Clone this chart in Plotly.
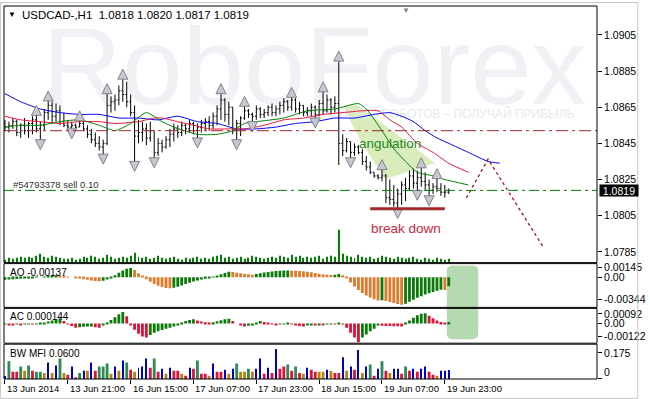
import plotly.graph_objects as go

# ---------------- data ----------------
bar_high = [1.0858,1.0857,1.0859,1.0858,1.0856,1.0859,1.0857,1.0860,1.0861,1.0857,
 1.0864,1.0869,1.0868,1.0867,1.0866,1.0862,1.0858,1.0857,1.0856,1.0858,
 1.0857,1.0855,1.0853,1.0851,1.0849,1.0847,1.0873,1.0871,1.0872,1.0877,
 1.0881,1.0879,1.0872,1.0866,1.0858,1.0857,1.0856,1.0857,1.0852,1.0848,
 1.0847,1.0849,1.0853,1.0856,1.0855,1.0857,1.0856,1.0858,1.0857,1.0856,
 1.0858,1.0859,1.0860,1.0862,1.0866,1.0873,1.0870,1.0868,1.0865,1.0858,
 1.0860,1.0866,1.0864,1.0862,1.0866,1.0865,1.0864,1.0866,1.0867,1.0866,
 1.0868,1.0870,1.0869,1.0871,1.0870,1.0868,1.0866,1.0865,1.0867,1.0866,
 1.0869,1.0874,1.0872,1.0870,1.0871,1.0891,1.0850,1.0848,1.0846,1.0845,
 1.0844,1.0842,1.0838,1.0835,1.0829,1.0828,1.0831,1.0828,1.0825,1.0822,
 1.0820,1.0824,1.0826,1.0830,1.0831,1.0830,1.0832,1.0829,1.0825,1.0823,
 1.0826,1.0823,1.0822,1.0820]
bar_low = [1.0852,1.0851,1.0853,1.0849,1.0848,1.0850,1.0848,1.0850,1.0851,1.0846,
 1.0852,1.0858,1.0856,1.0857,1.0855,1.0854,1.0853,1.0852,1.0853,1.0854,
 1.0852,1.0848,1.0845,1.0843,1.0841,1.0838,1.0844,1.0862,1.0863,1.0866,
 1.0868,1.0865,1.0860,1.0834,1.0845,1.0846,1.0844,1.0846,1.0836,1.0838,
 1.0840,1.0842,1.0843,1.0846,1.0848,1.0849,1.0850,1.0851,1.0850,1.0847,
 1.0851,1.0852,1.0852,1.0853,1.0855,1.0858,1.0857,1.0855,1.0850,1.0846,
 1.0849,1.0858,1.0859,1.0856,1.0858,1.0859,1.0859,1.0860,1.0860,1.0860,
 1.0861,1.0862,1.0863,1.0863,1.0862,1.0861,1.0860,1.0860,1.0860,1.0858,
 1.0860,1.0861,1.0862,1.0861,1.0862,1.0833,1.0838,1.0840,1.0836,1.0838,
 1.0839,1.0833,1.0830,1.0828,1.0826,1.0825,1.0824,1.0812,1.0811,1.0810,
 1.0808,1.0811,1.0813,1.0819,1.0820,1.0818,1.0821,1.0819,1.0815,1.0817,
 1.0818,1.0816,1.0815,1.0817]
bar_open = [1.0856,1.0854,1.0855,1.0857,1.0851,1.0855,1.0852,1.0856,1.0858,1.0853,
 1.0855,1.0862,1.0866,1.0860,1.0863,1.0857,1.0855,1.0854,1.0855,1.0854,
 1.0856,1.0853,1.0850,1.0847,1.0845,1.0843,1.0845,1.0866,1.0868,1.0869,
 1.0874,1.0872,1.0868,1.0862,1.0849,1.0851,1.0853,1.0848,1.0852,1.0840,
 1.0845,1.0843,1.0847,1.0850,1.0853,1.0851,1.0855,1.0853,1.0856,1.0852,
 1.0854,1.0856,1.0857,1.0855,1.0860,1.0864,1.0869,1.0861,1.0865,1.0852,
 1.0856,1.0859,1.0863,1.0861,1.0860,1.0864,1.0861,1.0862,1.0865,1.0862,
 1.0864,1.0866,1.0868,1.0865,1.0869,1.0864,1.0866,1.0862,1.0863,1.0865,
 1.0861,1.0867,1.0863,1.0869,1.0865,1.0867,1.0845,1.0841,1.0846,1.0840,
 1.0843,1.0840,1.0835,1.0832,1.0829,1.0827,1.0826,1.0827,1.0815,1.0814,
 1.0812,1.0817,1.0822,1.0820,1.0827,1.0823,1.0826,1.0824,1.0822,1.0819,
 1.0821,1.0820,1.0818,1.0818]
bar_close = [1.0854,1.0855,1.0857,1.0851,1.0855,1.0852,1.0856,1.0858,1.0853,1.0855,
 1.0862,1.0866,1.0860,1.0863,1.0857,1.0855,1.0854,1.0855,1.0854,1.0856,
 1.0853,1.0850,1.0847,1.0845,1.0843,1.0845,1.0866,1.0868,1.0869,1.0874,
 1.0872,1.0868,1.0862,1.0849,1.0851,1.0853,1.0848,1.0852,1.0840,1.0845,
 1.0843,1.0847,1.0850,1.0853,1.0851,1.0855,1.0853,1.0856,1.0852,1.0854,
 1.0856,1.0857,1.0855,1.0860,1.0864,1.0869,1.0861,1.0865,1.0852,1.0856,
 1.0859,1.0863,1.0861,1.0860,1.0864,1.0861,1.0862,1.0865,1.0862,1.0864,
 1.0866,1.0868,1.0865,1.0869,1.0864,1.0866,1.0862,1.0863,1.0865,1.0861,
 1.0867,1.0863,1.0869,1.0865,1.0867,1.0845,1.0841,1.0846,1.0840,1.0843,
 1.0840,1.0835,1.0832,1.0829,1.0827,1.0826,1.0827,1.0815,1.0814,1.0812,
 1.0817,1.0822,1.0820,1.0827,1.0823,1.0826,1.0824,1.0822,1.0819,1.0821,
 1.0820,1.0818,1.0818,1.0819]
tick_volume = [300,500,400,500,600,500,600,500,700,900,
 600,500,700,600,500,400,400,500,300,400,
 600,500,700,600,400,500,800,600,400,500,
 600,500,700,1000,600,500,600,400,500,700,
 500,400,500,600,400,300,500,400,500,600,
 400,500,400,600,700,800,500,600,400,500,
 600,400,500,700,600,500,400,500,600,500,
 700,600,500,800,600,700,500,600,500,600,
 700,400,600,700,600,3300,900,700,600,500,
 800,600,500,600,400,500,700,600,500,400,
 600,500,400,500,600,400,300,500,400,300,
 500,400,300,400]
ao_values = [-0.00040,-0.00035,-0.00030,-0.00025,-0.00022,-0.00018,-0.00012,-0.00008,-0.00004,0.00000,
 0.00004,0.00010,0.00016,0.00020,0.00015,0.00010,0.00005,0.00000,-0.00010,-0.00020,
 -0.00030,-0.00040,-0.00050,-0.00058,-0.00062,-0.00055,-0.00035,-0.00010,0.00030,0.00070,
 0.00105,0.00130,0.00140,0.00110,0.00060,0.00010,-0.00030,-0.00070,-0.00105,-0.00130,
 -0.00150,-0.00165,-0.00170,-0.00160,-0.00145,-0.00125,-0.00105,-0.00085,-0.00065,-0.00050,
 -0.00035,-0.00022,-0.00010,0.00005,0.00025,0.00045,0.00065,0.00085,0.00080,0.00070,
 0.00060,0.00050,0.00045,0.00040,0.00050,0.00062,0.00072,0.00080,0.00088,0.00095,
 0.00100,0.00102,0.00104,0.00100,0.00098,0.00094,0.00090,0.00084,0.00075,0.00065,
 0.00055,0.00045,0.00040,0.00035,0.00040,0.00048,0.00030,-0.00020,-0.00080,-0.00140,
 -0.00195,-0.00240,-0.00280,-0.00310,-0.00335,-0.00355,-0.00350,-0.00365,-0.00380,-0.00395,
 -0.00410,-0.00420,-0.00405,-0.00375,-0.00345,-0.00315,-0.00290,-0.00265,-0.00245,-0.00225,
 -0.00205,-0.00190,-0.00195,-0.00137]
ac_values = [-0.00005,-0.00010,-0.00012,-0.00008,-0.00010,-0.00006,-0.00004,-0.00006,-0.00003,0.00002,
 0.00010,0.00020,0.00030,0.00040,0.00048,0.00025,-0.00005,-0.00025,-0.00040,-0.00035,
 -0.00032,-0.00030,-0.00028,-0.00035,-0.00042,-0.00020,0.00010,0.00035,0.00060,0.00090,
 0.00110,0.00070,-0.00010,-0.00060,-0.00100,-0.00125,-0.00135,-0.00110,-0.00090,-0.00075,
 -0.00062,-0.00050,-0.00040,-0.00030,-0.00010,0.00010,0.00025,0.00035,0.00040,0.00030,
 0.00020,0.00012,0.00005,0.00012,0.00022,0.00032,0.00040,0.00045,0.00025,0.00000,
 -0.00020,-0.00030,-0.00022,-0.00010,0.00010,0.00025,0.00015,0.00005,-0.00005,-0.00012,
 -0.00008,-0.00002,0.00004,-0.00005,-0.00015,-0.00025,-0.00030,-0.00020,-0.00015,-0.00018,
 -0.00010,-0.00012,-0.00008,-0.00004,-0.00007,0.00005,-0.00005,-0.00040,-0.00090,-0.00135,
 -0.00180,-0.00135,-0.00105,-0.00075,-0.00050,-0.00020,-0.00022,-0.00024,-0.00025,-0.00026,
 -0.00027,-0.00028,0.00005,0.00030,0.00055,0.00080,0.00095,0.00100,0.00075,0.00050,
 0.00030,0.00015,0.00005,0.000144]
mfi_values = [0.020,0.118,0.048,0.048,0.083,0.055,0.090,0.055,0.048,0.048,
 0.041,0.111,0.041,0.090,0.138,0.041,0.028,0.083,0.007,0.041,
 0.055,0.055,0.111,0.055,0.083,0.083,0.104,0.035,0.083,0.055,
 0.124,0.111,0.062,0.048,0.076,0.083,0.138,0.076,0.138,0.048,
 0.069,0.035,0.076,0.055,0.055,0.035,0.021,0.076,0.069,0.124,
 0.035,0.035,0.021,0.104,0.048,0.048,0.062,0.035,0.069,0.104,
 0.048,0.048,0.069,0.048,0.069,0.138,0.035,0.076,0.041,0.200,
 0.069,0.083,0.097,0.055,0.083,0.041,0.035,0.076,0.062,0.048,
 0.048,0.048,0.062,0.055,0.041,0.041,0.145,0.055,0.083,0.062,
 0.194,0.041,0.083,0.097,0.021,0.069,0.118,0.055,0.041,0.069,
 0.069,0.035,0.083,0.055,0.069,0.048,0.069,0.083,0.048,0.028,
 0.021,0.055,0.055,0.060]
# BW MFI zones: G = green, R = fade, F = fake, S = squat
mfi_zone = list("FGRRGSGRGG" "SFSFGSRFRG" "FSFRGGGSFS" "FGRSFFFRGR"
                "FSFRRSRFRG" "RRSFRRFSFG" "SSGSFFRFRF" "RRGRGRSFRR"
                "SSFSRRFSFR" "FSFGRFGRSF" "FRGRFRFFRR" "SFFF")

jaw_idx = [0,4,9,14,19,24,29,34,39,44,49,54,59,64,69,74,79,84,89,94,98,101,104,107,110,113,118,123,126]
jaw_val = [1.08725,1.0868,1.0864,1.0862,1.0861,1.0861,1.0859,1.0859,1.0858,1.0860,
           1.0857,1.0856,1.0853,1.0853,1.0854,1.0856,1.0857,1.0859,1.0859,1.0861,
           1.0862,1.0860,1.0857,1.0852,1.0848,1.0845,1.0840,1.0835,1.0834]
teeth_idx = [0,4,9,14,19,24,28,34,38,40,44,48,52,57,61,66,71,76,81,86,91,95,98,101,105,109,113,118]
teeth_val = [1.0860,1.0858,1.0857,1.0856,1.0857,1.0857,1.0856,1.0857,1.0859,1.0859,
             1.0857,1.0855,1.0853,1.0853,1.0853,1.0855,1.0858,1.0859,1.0861,1.0862,
             1.0863,1.0863,1.0858,1.0854,1.0845,1.0840,1.0834,1.0829]
lips_idx = [0,4,9,14,19,24,28,32,36,40,43,49,54,58,61,64,71,77,84,90,92,96,99,102,105,109,112,118]
lips_val = [1.0854,1.0855,1.0855,1.0857,1.0858,1.0855,1.0852,1.0856,1.0862,1.0857,
            1.0854,1.0850,1.0850,1.0852,1.0856,1.0857,1.0859,1.0863,1.0864,1.0867,
            1.0864,1.0852,1.0842,1.0835,1.0829,1.0827,1.0825,1.0822]

fractal_up_idx = [8,11,19,26,30,55,61,73,81,85,96,106,110]
fractal_down_idx = [9,17,25,33,38,49,59,63,79,88,100,105,108]

price_ticks = [1.0785,1.0805,1.0825,1.0845,1.0865,1.0885,1.0905]
ao_ticks = [0.00145, 0.0, -0.00344]
ao_tick_text = ["0.00145", "0.00", "-0.00344"]
ac_ticks = [0.00092, 0.0, -0.00122]
ac_tick_text = ["0.00092", "0.00", "-0.00122"]
time_label_idx = [0,16,32,48,64,80,96,112]
time_labels = ["13 Jun 2014","13 Jun 21:00","16 Jun 15:00","17 Jun 07:00",
               "17 Jun 23:00","18 Jun 15:00","19 Jun 07:00","19 Jun 23:00"]

symbol_title = "USDCAD-,H1"
last_ohlc = "1.0818 1.0820 1.0817 1.0819"
order_label = "#54793378 sell 0.10"
order_price = 1.0819
resistance_price = 1.0852
breakdown_price = 1.08088
breakdown_from, breakdown_to = 93, 112
forecast_idx = [117.5, 123, 137]
forecast_val = [1.08148, 1.08363, 1.07879]
wedge_idx = [86.25, 90, 109.5, 97]
wedge_val = [1.0866, 1.0866, 1.08341, 1.08253]
watermark = "RoboForex"
slogan = "ТОРГУЙ БЕЗ РОБОТОВ – ПОЛУЧАЙ ПРИБЫЛЬ"

# ---------------- geometry helpers ----------------
W, H = 650, 399
L_PX, R_PX, T_PX, B_PX = 4, 608, 4, 379
def xp(px): return (px - L_PX) / (R_PX - L_PX)
def yp(py): return (B_PX - py) / (B_PX - T_PX)

FONT = "Liberation Sans, Arial, sans-serif"
main_range = [1.077905, 1.092095]
idx = list(range(len(bar_close)))

GREEN_AO = "#0b7a0b"
ORANGE_AO = "#e07a2a"
RED_AC = "#dc143c"
zone_color = {"G": "#2e8b57", "R": "#dc143c", "F": "#0000cd", "S": "#b8860b"}

fig = go.Figure()

# watermark (base layer)
fig.add_trace(go.Scatter(x=[78.75], y=[1.08819], mode="text", text=[watermark],
    textposition="middle center", textfont=dict(family=FONT, size=110, color="#eff1f4"),
    xaxis="x", yaxis="y", hoverinfo="skip"))
fig.add_trace(go.Scatter(x=[145], y=[1.08605], mode="text", text=[slogan],
    textposition="middle left", textfont=dict(family=FONT, size=12, color="#e6e9ed"),
    xaxis="x", yaxis="y", hoverinfo="skip"))

# tick volume
fig.add_trace(go.Bar(x=idx, y=tick_volume, width=0.25, marker=dict(color="#008000", line=dict(width=0)),
    xaxis="x", yaxis="y5", hoverinfo="skip"))

# alligator
for xs, ys, col in [(jaw_idx, jaw_val, "#0000ff"), (teeth_idx, teeth_val, "#e8173c"), (lips_idx, lips_val, "#008000")]:
    fig.add_trace(go.Scatter(x=xs, y=ys, mode="lines", line=dict(color=col, width=1, shape="spline", smoothing=0.6),
        xaxis="x", yaxis="y6", hoverinfo="skip"))

# price bars
fig.add_trace(go.Ohlc(x=idx, open=bar_open, high=bar_high, low=bar_low, close=bar_close,
    increasing=dict(line=dict(color="black", width=1)), decreasing=dict(line=dict(color="black", width=1)),
    tickwidth=0.35, xaxis="x", yaxis="y6", hoverinfo="skip"))

# fractals
fig.add_trace(go.Scatter(x=fractal_up_idx, y=[bar_high[i] + 0.0005 for i in fractal_up_idx], mode="markers",
    marker=dict(symbol="arrow-up", size=10, color="#c6c8d0", line=dict(color="#80828e", width=1)),
    xaxis="x", yaxis="y6", hoverinfo="skip"))
fig.add_trace(go.Scatter(x=fractal_down_idx, y=[bar_low[i] - 0.00045 for i in fractal_down_idx], mode="markers",
    marker=dict(symbol="arrow-down", size=10, color="#c6c8d0", line=dict(color="#80828e", width=1)),
    xaxis="x", yaxis="y6", hoverinfo="skip"))

# forecast path
fig.add_trace(go.Scatter(x=forecast_idx, y=forecast_val, mode="lines",
    line=dict(color="#a01818", width=1.3, dash="dot"), xaxis="x", yaxis="y6", hoverinfo="skip"))

# AO
ao_colors = [GREEN_AO if i == 0 or v > ao_values[i-1] else ORANGE_AO for i, v in enumerate(ao_values)]
fig.add_trace(go.Bar(x=idx, y=ao_values, width=0.72, marker=dict(color=ao_colors, line=dict(width=0)),
    xaxis="x", yaxis="y2", hoverinfo="skip"))
# AC
ac_colors = [GREEN_AO if i == 0 or v > ac_values[i-1] else RED_AC for i, v in enumerate(ac_values)]
fig.add_trace(go.Bar(x=idx, y=ac_values, width=0.72, marker=dict(color=ac_colors, line=dict(width=0)),
    xaxis="x", yaxis="y3", hoverinfo="skip"))
# BW MFI
wide = [i for i in idx if mfi_zone[i] != "F"]
thin = [i for i in idx if mfi_zone[i] == "F"]
fig.add_trace(go.Bar(x=wide, y=[mfi_values[i] for i in wide], width=0.72,
    marker=dict(color=[zone_color[mfi_zone[i]] for i in wide], line=dict(width=0)),
    xaxis="x", yaxis="y4", hoverinfo="skip"))
fig.add_trace(go.Bar(x=thin, y=[mfi_values[i] for i in thin], width=0.25,
    marker=dict(color=zone_color["F"], line=dict(width=0)),
    xaxis="x", yaxis="y4", hoverinfo="skip"))

# ---------------- shapes ----------------
shapes = []
wp = (f"M {wedge_idx[0]},{wedge_val[0]} L {wedge_idx[1]},{wedge_val[1]} L {wedge_idx[2]},{wedge_val[2]} "
      f"L {wedge_idx[3]},{wedge_val[3]} Q {wedge_idx[1]},{(wedge_val[0]+wedge_val[3])/2} {wedge_idx[0]},{wedge_val[0]} Z")
shapes.append(dict(type="path", path=wp, xref="x", yref="y", fillcolor="#d9ecbc", line=dict(width=0), layer="below"))
x0, x1 = 112.5, 120.5
y0, y1 = yp(339), yp(265)
rx, ry = 1.5, 6 / 375
rp = (f"M {x0+rx},{y0} L {x1-rx},{y0} Q {x1},{y0} {x1},{y0+ry} L {x1},{y1-ry} Q {x1},{y1} {x1-rx},{y1} "
      f"L {x0+rx},{y1} Q {x0},{y1} {x0},{y1-ry} L {x0},{y0+ry} Q {x0},{y0} {x0+rx},{y0} Z")
shapes.append(dict(type="path", path=rp, xref="x", yref="paper", fillcolor="#b5dab1", line=dict(width=0), layer="below"))
shapes.append(dict(type="line", xref="paper", yref="y", x0=0, x1=1, y0=resistance_price, y1=resistance_price,
    line=dict(color="#a0282a", width=1, dash="12px,4px,3px,4px")))
shapes.append(dict(type="line", xref="paper", yref="y", x0=0, x1=1, y0=order_price, y1=order_price,
    line=dict(color="#008000", width=1, dash="10px,4px,3px,4px")))
shapes.append(dict(type="line", xref="x", yref="y", x0=breakdown_from, x1=breakdown_to, y0=breakdown_price, y1=breakdown_price,
    line=dict(color="#a52a2a", width=3)))
for top, bot in [(4, 262), (263, 307), (308, 343), (344, 379)]:
    shapes.append(dict(type="rect", xref="paper", yref="paper", x0=0, x1=1, y0=yp(bot), y1=yp(top),
        line=dict(color="black", width=1), fillcolor="rgba(0,0,0,0)"))
shapes.append(dict(type="rect", xref="paper", yref="paper", x0=xp(0.5), x1=xp(649.5), y0=yp(398.5), y1=yp(0.5),
    line=dict(color="#c8c8c8", width=1), fillcolor="rgba(0,0,0,0)"))

# ---------------- annotations ----------------
ann = []
def text_ann(x, y, text, size=10, color="black", xanchor="left", xref="paper", yref="paper", **kw):
    d = dict(x=x, y=y, xref=xref, yref=yref, text=text, showarrow=False, xanchor=xanchor, yanchor="middle",
             font=dict(family=FONT, size=size, color=color))
    d.update(kw)
    ann.append(d)

text_ann(xp(12), yp(13), "▼", size=8, xanchor="center")
text_ann(xp(20), yp(13), symbol_title + "\u00a0\u00a0" + last_ohlc, size=11.5)
text_ann(xp(413), yp(9), "▼", size=8, color="#7f8894", xanchor="center")
text_ann(xp(11), yp(183), order_label, size=9.5, color="#333333")
text_ann(xp(610), order_price, "1.0819", size=10.5, color="white", yref="y", bgcolor="black",
         borderpad=0, width=38, height=11)
text_ann(xp(8), yp(271.5), "AO -0.00137", size=10)
text_ann(xp(8), yp(316.5), "AC 0.000144", size=10)
text_ann(xp(8), yp(353.5), "BW MFI 0.0600", size=10)
text_ann(xp(613), yp(372), "0", size=10.5)
for ti, tl in zip(time_label_idx, time_labels):
    text_ann(ti, yp(388.5), tl, size=9.5, xref="x")
text_ann(98, 1.0845, "angulation", size=13.5, color="#238a23", xanchor="center", xref="x", yref="y")
text_ann(102, 1.0798, "break down", size=13.5, color="#c8283c", xanchor="center", xref="x", yref="y")

axis_font = dict(family=FONT, size=10.5, color="black")
common_y = dict(side="right", anchor="x", showgrid=False, zeroline=False, showline=False,
                ticks="outside", ticklen=4, tickcolor="black", tickfont=axis_font, fixedrange=True)

fig.update_layout(
    width=W, height=H, margin=dict(l=L_PX, r=W - R_PX, t=T_PX, b=H - B_PX),
    paper_bgcolor="white", plot_bgcolor="white", showlegend=False, hovermode=False,
    barmode="overlay", dragmode=False,
    xaxis=dict(domain=[0, 1], range=[-0.25, 150.75], anchor="y4", showgrid=False, zeroline=False,
               showline=False, ticks="outside", ticklen=4, tickcolor="black", tickvals=time_label_idx,
               showticklabels=False, rangeslider=dict(visible=False), fixedrange=True),
    yaxis=dict(domain=[yp(262), 1], range=main_range, tickvals=price_ticks,
               ticktext=[f"{v:.4f}" for v in price_ticks], **common_y),
    yaxis5=dict(overlaying="y", range=[0, 25800], visible=False, fixedrange=True),
    yaxis6=dict(overlaying="y", range=main_range, visible=False, fixedrange=True),
    yaxis2=dict(domain=[yp(307), yp(263)], range=[-0.00461, 0.002085], tickvals=ao_ticks,
                ticktext=ao_tick_text, **common_y),
    yaxis3=dict(domain=[yp(343), yp(308)], range=[-0.0019, 0.00146], tickvals=ac_ticks,
                ticktext=ac_tick_text, **common_y),
    yaxis4=dict(domain=[0, yp(344)], range=[0, 0.233], tickvals=[0, 0.175],
                ticktext=["", "0.175"], **common_y),
    shapes=shapes, annotations=ann,
)

fig.write_html("out.html")
